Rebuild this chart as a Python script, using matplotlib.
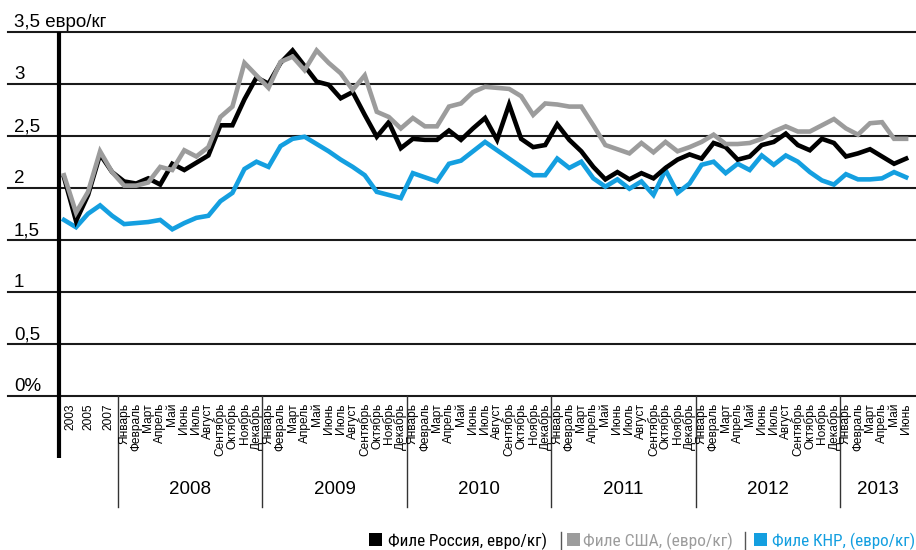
import matplotlib
matplotlib.use("Agg")
import matplotlib.pyplot as plt
from matplotlib.transforms import blended_transform_factory
from matplotlib.patches import Rectangle
from matplotlib.lines import Line2D

# ---------------- data ----------------
annual_labels = ['2003', '2005', '2007']
annual_points = ['2003', '2004', '2005', '2006', '2007']
months = ['Январь', 'Февраль', 'Март', 'Апрель', 'Май', 'Июнь', 'Июль',
          'Август', 'Сентябрь', 'Октябрь', 'Ноябрь', 'Декабрь']
years = ['2008', '2009', '2010', '2011', '2012', '2013']
months_in_year = [12, 12, 12, 12, 12, 6]

russia = [2.10, 1.68, 1.93, 2.32, 2.15,
          2.06, 2.04, 2.09, 2.03, 2.23, 2.17, 2.24, 2.31, 2.60, 2.60, 2.85, 3.06,
          3.00, 3.20, 3.32, 3.17, 3.02, 2.99, 2.86, 2.92, 2.70, 2.49, 2.63, 2.38,
          2.47, 2.46, 2.46, 2.55, 2.46, 2.57, 2.67, 2.46, 2.80, 2.47, 2.39, 2.41,
          2.61, 2.46, 2.35, 2.20, 2.08, 2.15, 2.08, 2.14, 2.09, 2.19, 2.27, 2.32,
          2.28, 2.43, 2.39, 2.27, 2.30, 2.41, 2.44, 2.52, 2.41, 2.36, 2.47, 2.43,
          2.30, 2.33, 2.37, 2.30, 2.23, 2.28]
usa = [2.12, 1.76, 1.96, 2.35, 2.15,
       2.02, 2.02, 2.05, 2.20, 2.17, 2.36, 2.30, 2.39, 2.68, 2.78, 3.20, 3.08,
       2.96, 3.21, 3.26, 3.13, 3.32, 3.20, 3.10, 2.94, 3.08, 2.73, 2.68, 2.57,
       2.67, 2.59, 2.59, 2.78, 2.81, 2.92, 2.97, 2.96, 2.95, 2.88, 2.70, 2.81,
       2.80, 2.78, 2.78, 2.60, 2.41, 2.37, 2.33, 2.43, 2.34, 2.44, 2.35, 2.39,
       2.44, 2.51, 2.42, 2.42, 2.43, 2.47, 2.54, 2.59, 2.54, 2.54, 2.60, 2.66,
       2.57, 2.51, 2.62, 2.63, 2.47, 2.47]
china = [1.69, 1.62, 1.75, 1.83, 1.73,
         1.65, 1.66, 1.67, 1.69, 1.60, 1.66, 1.71, 1.73, 1.87, 1.95, 2.18, 2.25,
         2.20, 2.40, 2.47, 2.49, 2.42, 2.35, 2.27, 2.20, 2.12, 1.96, 1.93, 1.90,
         2.14, 2.10, 2.06, 2.23, 2.26, 2.35, 2.44, 2.36, 2.28, 2.20, 2.12, 2.12,
         2.28, 2.19, 2.25, 2.09, 2.01, 2.08, 1.99, 2.06, 1.93, 2.17, 1.95, 2.04,
         2.22, 2.25, 2.14, 2.23, 2.17, 2.31, 2.22, 2.31, 2.25, 2.15, 2.07, 2.03,
         2.13, 2.08, 2.08, 2.09, 2.15, 2.10]

y_ticks = [0, 0.5, 1, 1.5, 2, 2.5, 3]
y_tick_labels = ['0%', '0,5', '1', '1,5', '2', '2,5', '3']
y_title = '3,5 евро/кг'
legend_labels = ['Филе Россия, евро/кг)', 'Филе США, (евро/кг)', 'Филе КНР, (евро/кг)']

# ---------------- style ----------------
W, H = 916, 550
C_BLACK = '#000000'
C_GRAY = '#9c9c9c'
C_BLUE = '#149fe0'
FONT = ['Liberation Sans', 'DejaVu Sans']
COND = ['Liberation Sans Narrow', 'Roboto Condensed', 'Open Sans', 'DejaVu Sans']

fig = plt.figure(figsize=(W / 100, H / 100), dpi=100)
fig.patch.set_facecolor('white')

# pixel geometry
x0_px, step_px = 64.0, 12.03
y0_px, px_per_unit = 395.7, 104.0
left_px, right_px = 8.0, 916.0
top_px = y0_px - 3.5 * px_per_unit

ax = fig.add_axes([left_px / W, 1 - y0_px / H, (right_px - left_px) / W, 3.5 * px_per_unit / H])
ax.set_xlim((left_px - x0_px) / step_px, (right_px - x0_px) / step_px)
ax.set_ylim(0, 3.5)
ax.axis('off')

def px2y(py):
    return (y0_px - py) / px_per_unit

def px2x(px):
    return (px - x0_px) / step_px

# gridlines
for v in [0, 0.5, 1, 1.5, 2, 2.5, 3, 3.5]:
    ax.axhline(v, color='#1a1a1a', lw=1.5, zorder=1, clip_on=False)

n = len(russia)
xs = list(range(n))
ax.plot(xs, china, color=C_BLUE, lw=3.3, zorder=3, solid_joinstyle='miter', clip_on=False)
ax.plot(xs, russia, color=C_BLACK, lw=3.3, zorder=4, solid_joinstyle='miter', clip_on=False)
ax.plot(xs, usa, color=C_GRAY, lw=3.3, zorder=5, solid_joinstyle='miter', clip_on=False)

# thick vertical axis
ax.plot([px2x(59), px2x(59)], [3.5, px2y(458)], color='black', lw=3.0, zorder=6,
        clip_on=False, solid_capstyle='butt')

# y tick labels
tr_y = blended_transform_factory(fig.transFigure, ax.transData)
for v, lab in zip(y_ticks, y_tick_labels):
    ax.text(14 / W, v + 4.5 / px_per_unit, lab, transform=tr_y, fontsize=13.5,
            family=FONT, va='baseline', ha='left')
ax.text(14 / W, 3.5 + 4.5 / px_per_unit, y_title, transform=tr_y, fontsize=13.5,
        family=FONT, va='baseline', ha='left')

# x labels
lab_top = px2y(403)
annual_pos = [0.5, 2.0, 3.7]
for p, lab in zip(annual_pos, annual_labels):
    ax.text(p, lab_top, lab, rotation=90, ha='center', va='top', fontsize=8.6,
            family=FONT, clip_on=False)

start = len(annual_points)
idx = start
for yr, cnt in zip(years, months_in_year):
    for m in range(cnt):
        ax.text(idx + m, lab_top, months[m], rotation=90, ha='center', va='top',
                fontsize=8.6, family=FONT, clip_on=False)
    ax.plot([idx - 0.5, idx - 0.5], [0, px2y(507)], color='#333333', lw=1.0,
            clip_on=False, zorder=2)
    center = idx - 0.5 + cnt / 2.0
    if cnt < 12:
        center = (idx - 0.5 + px2x(right_px)) / 2.0
    ax.text(center, px2y(489), yr, ha='center', va='center', fontsize=13.5,
            family=FONT, clip_on=False)
    idx += cnt

# legend
renderer = fig.canvas.get_renderer()

def fit_text(x_px, y_px, s, width_px, **kw):
    t = fig.text(x_px / W, 1 - y_px / H, s, fontsize=12, va='baseline', ha='left', **kw)
    w = t.get_window_extent(renderer=renderer).width
    t.set_fontsize(12 * width_px / w)
    return t

leg = [
    (369, 388, 159, C_BLACK),
    (567, 583, 149, C_GRAY),
    (754, 772, 143, C_BLUE),
]
for (sq_x, tx, tw, col), lab in zip(leg, legend_labels):
    fig.add_artist(Rectangle((sq_x / W, 1 - 546 / H), 13 / W, 13 / H,
                             transform=fig.transFigure, color=col, lw=0))
    fit_text(tx, 546, lab, tw, color=col, family=COND)

for sx in [561, 745]:
    fig.add_artist(Line2D([sx / W, sx / W], [1 - 549 / H, 1 - 532 / H],
                          transform=fig.transFigure, color='#555555', lw=1.0))

fig.savefig('out.png', dpi=100, facecolor='white')
